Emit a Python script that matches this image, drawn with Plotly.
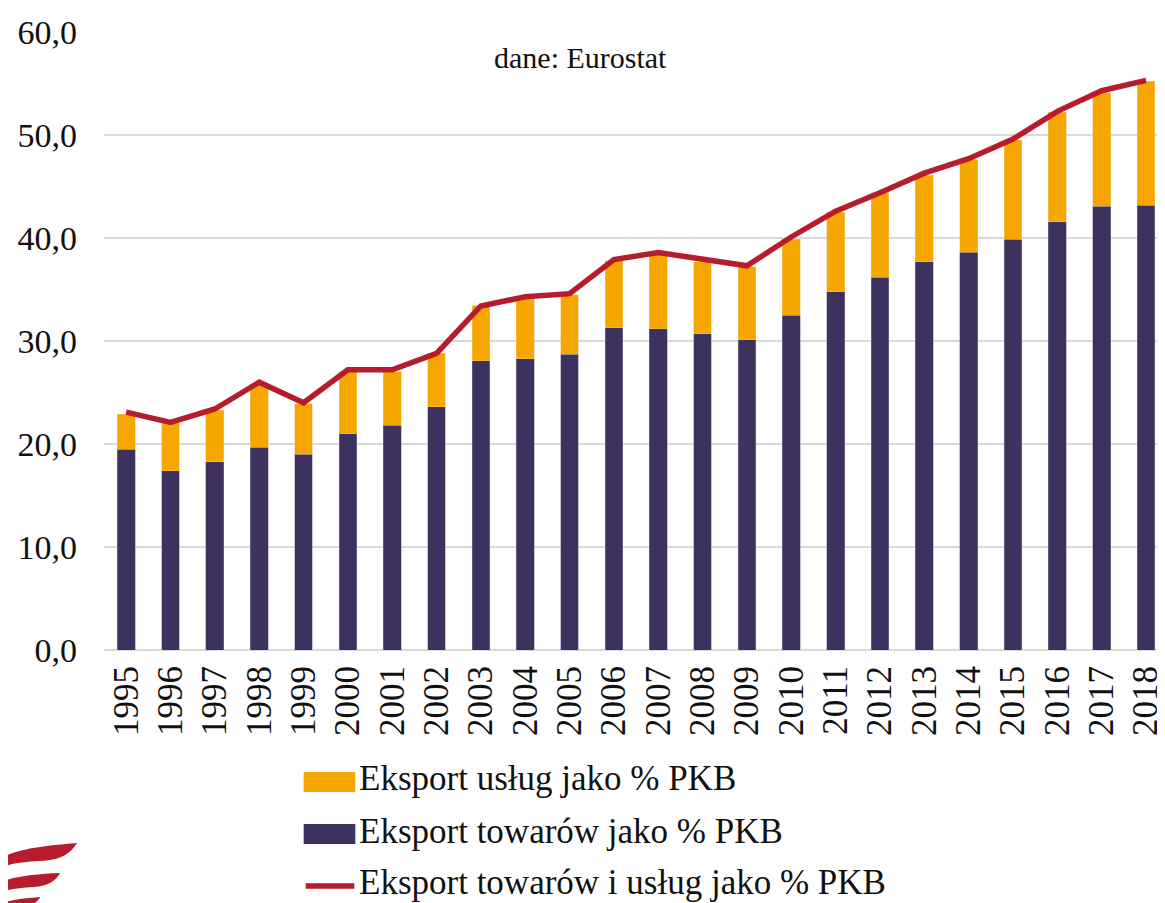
import plotly.graph_objects as go

years = [str(y) for y in range(1995, 2019)]
goods = [19.5, 17.4, 18.3, 19.7, 19.0, 21.0, 21.8, 23.6, 28.1, 28.3, 28.7, 31.3,
         31.2, 30.7, 30.1, 32.5, 34.8, 36.2, 37.7, 38.6, 39.9, 41.6, 43.1, 43.2]
services = [3.4, 4.6, 5.0, 6.1, 4.9, 6.0, 5.2, 5.2, 5.3, 5.8, 5.8, 6.5,
            7.2, 7.0, 7.1, 7.4, 7.7, 8.2, 8.4, 9.0, 9.6, 10.6, 11.0, 12.0]
total = [23.1, 22.1, 23.4, 26.0, 24.0, 27.2, 27.2, 28.8, 33.4, 34.3, 34.6, 37.9,
         38.6, 37.9, 37.3, 40.1, 42.6, 44.4, 46.3, 47.7, 49.6, 52.3, 54.3, 55.3]
y_ticks = [0, 10, 20, 30, 40, 50, 60]
legend_labels = ["Eksport usług jako % PKB", "Eksport towarów jako % PKB",
                 "Eksport towarów i usług jako % PKB"]
source_note = "dane: Eurostat"

PURPLE = "#3D3160"
ORANGE = "#F5A700"
RED = "#B71C2C"
GRID = "#D9D9D9"
FONT = "Liberation Serif"

# page has an 8px body margin: figure is drawn from screen (8, 8)
OFF = 8
W, H = 1165 - OFF, 903 - OFF
# plot area in screen pixels
L, R, T, B = 104, 1165, 32, 650


def fx(x):
    return (x - L) / (R - L)


def fy(y):
    return (B - y) / (B - T)


fig = go.Figure()
fig.add_trace(go.Bar(x=years, y=goods, name=legend_labels[1], marker_color=PURPLE,
                     marker_line=dict(color="rgba(140,130,170,0.6)", width=0.8),
                     width=0.40, showlegend=False))
fig.add_trace(go.Bar(x=years, y=services, name=legend_labels[0], marker_color=ORANGE,
                     marker_line=dict(color="rgba(240,200,120,0.6)", width=0.8),
                     width=0.40, showlegend=False))
fig.add_trace(go.Scatter(x=years, y=total, name=legend_labels[2], mode="lines",
                         line=dict(color=RED, width=5.5), showlegend=False))

shapes = []
annotations = []

# manual legend
legend_rows = [(782, ORANGE, "rect"), (834, PURPLE, "rect"), (886, RED, "line")]
for (cy, col, kind), label in zip(legend_rows, legend_labels):
    if kind == "rect":
        shapes.append(dict(type="rect", xref="paper", yref="paper",
                           x0=fx(305), x1=fx(357), y0=fy(cy - 10), y1=fy(cy + 10),
                           fillcolor=col, line=dict(width=0), layer="above"))
    else:
        shapes.append(dict(type="line", xref="paper", yref="paper",
                           x0=fx(307), x1=fx(356), y0=fy(cy), y1=fy(cy),
                           line=dict(color=col, width=5.5), layer="above"))
    annotations.append(dict(text=label, xref="paper", yref="paper", x=fx(359), y=fy(cy - 3),
                            xanchor="left", yanchor="middle", showarrow=False,
                            font=dict(family=FONT, size=35, color="#111111")))

annotations.append(dict(text=source_note, xref="paper", yref="paper", x=fx(584), y=fy(57),
                        xanchor="center", yanchor="middle", showarrow=False,
                        font=dict(family=FONT, size=30, color="#111111")))

# logo stripes
def path_px(pts):
    s = "M {:.4f},{:.4f} ".format(fx(pts[0][0]), fy(pts[0][1]))
    for seg in pts[1:]:
        s += "C " + " ".join("{:.4f},{:.4f}".format(fx(a), fy(b)) for a, b in seg) + " "
    return s + "Z"

logo = [
    [(0, 858), [(18, 849), (40, 846), (77, 843)], [(70, 853), (62, 860), (40, 861)],
     [(22, 862), (10, 863), (0, 868)]],
    [(0, 882), [(15, 876), (35, 874), (60, 873)], [(55, 881), (48, 886), (33, 887)],
     [(18, 888), (8, 889), (0, 892)]],
    [(0, 903), [(10, 900), (25, 898), (40, 897)], [(38, 900), (36, 902), (34, 903)]],
]
for pts in logo:
    shapes.append(dict(type="path", xref="paper", yref="paper", path=path_px(pts),
                       fillcolor=RED, line=dict(width=0), layer="above"))

fig.update_layout(
    width=W, height=H, autosize=False,
    margin=dict(l=L - OFF, r=0, t=T - OFF, b=H - (B - OFF), pad=0),
    barmode="stack",
    plot_bgcolor="white", paper_bgcolor="white",
    separators=", ",
    font=dict(family=FONT, size=34, color="#111111"),
    shapes=shapes, annotations=annotations,
    showlegend=False,
)
fig.update_xaxes(type="category", range=[-0.5, 23.27], tickangle=-90,
                 showgrid=False, showline=False, ticks="", ticklabelstandoff=8,
                 tickfont=dict(family=FONT, size=35, color="#111111"))
fig.update_yaxes(range=[0, 60], tickvals=y_ticks, tickformat=".1f",
                 showgrid=True, gridcolor=GRID, gridwidth=2,
                 zeroline=True, zerolinecolor=GRID, zerolinewidth=2,
                 showline=False, ticks="", ticklabelstandoff=26,
                 tickfont=dict(family=FONT, size=34, color="#111111"))

fig.write_html("out.html")
